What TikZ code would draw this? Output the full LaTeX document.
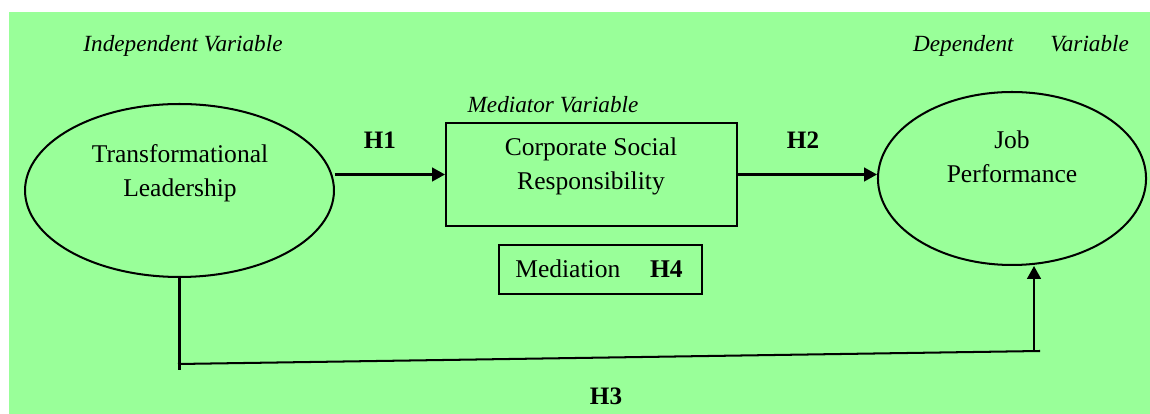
\documentclass[tikz,border=0pt]{standalone}
\usepackage{fontspec}
\setmainfont{Liberation Serif}
\usetikzlibrary{shapes.geometric,arrows.meta}
\definecolor{panelgreen}{RGB}{153,255,153}
\tikzset{
    var-ellipse/.style = {draw, ellipse, line width=0.95pt, inner sep=0pt},
    var-box/.style = {draw, rectangle, line width=0.95pt, inner sep=0pt},
    var-text/.style = {align=center, anchor=base, font=\fontsize{12}{16}\selectfont},
    var-label/.style = {anchor=base, font=\fontsize{10.9}{13}\selectfont\itshape},
    hyp-label/.style = {anchor=base, font=\fontsize{11.8}{14}\selectfont\bfseries},
    link/.style = {line width=0.95pt, -{Triangle[length=6pt,width=6.4pt]}},
    plain-link/.style = {line width=0.95pt},
}

\begin{document}
\begin{tikzpicture}[x=0.47pt, y=-0.47pt]
\useasboundingbox (0,0) rectangle (1150,414);
\fill[panelgreen] (9,12) rectangle (1150,414);

% variables
\node [var-ellipse, minimum width=145.2pt, minimum height=81.3pt] (tl) at (179.5,190.5) {};
\node [var-ellipse, minimum width=126pt, minimum height=81.3pt] (jp) at (1012,178.5) {};
\node [var-box, minimum width=136.8pt, minimum height=48.4pt] (csr) at (591.5,174.5) {};
\node [var-box, minimum width=95.4pt, minimum height=23pt] (med) at (600.5,269.5) {};

% anchor base = baseline of the last line
\node [var-text] (tl-text) at (180,197) {Transformational\\Leadership};
\node [var-text] (jp-text) at (1012,183) {Job\\Performance};
\node [var-text] (csr-text) at (591,190) {Corporate Social\\Responsibility};
\node [var-text] (med-text) at (599,278) {Mediation\hspace{11pt} \textbf{H4}};

% headings
\node [var-label] (iv) at (183,52) {Independent Variable};
\node [var-label] (dv) at (1021,52) {Dependent\hspace{14.5pt} Variable};
\node [var-label] (mv) at (553,113) {Mediator Variable};

% paths
\draw [link] (tl.east |- csr.west) -- (csr.west);
\draw [link] (csr.east) -- (jp.west |- csr.east);
\node [hyp-label] (h1) at (380,149) {H1};
\node [hyp-label] (h2) at (803,149) {H2};

\coordinate (h3-left) at (178,364);
\coordinate (h3-right) at (1040,351);
\coordinate (h3-up) at (1034,351);
\draw [plain-link] (tl.south) -- (tl.south |- 0,370);
\draw [plain-link] (h3-left) -- (h3-right);
\draw [link] (h3-up) -- (h3-up |- jp.south);
\node [hyp-label] (h3) at (606,405) {H3};
\end{tikzpicture}
\end{document}
